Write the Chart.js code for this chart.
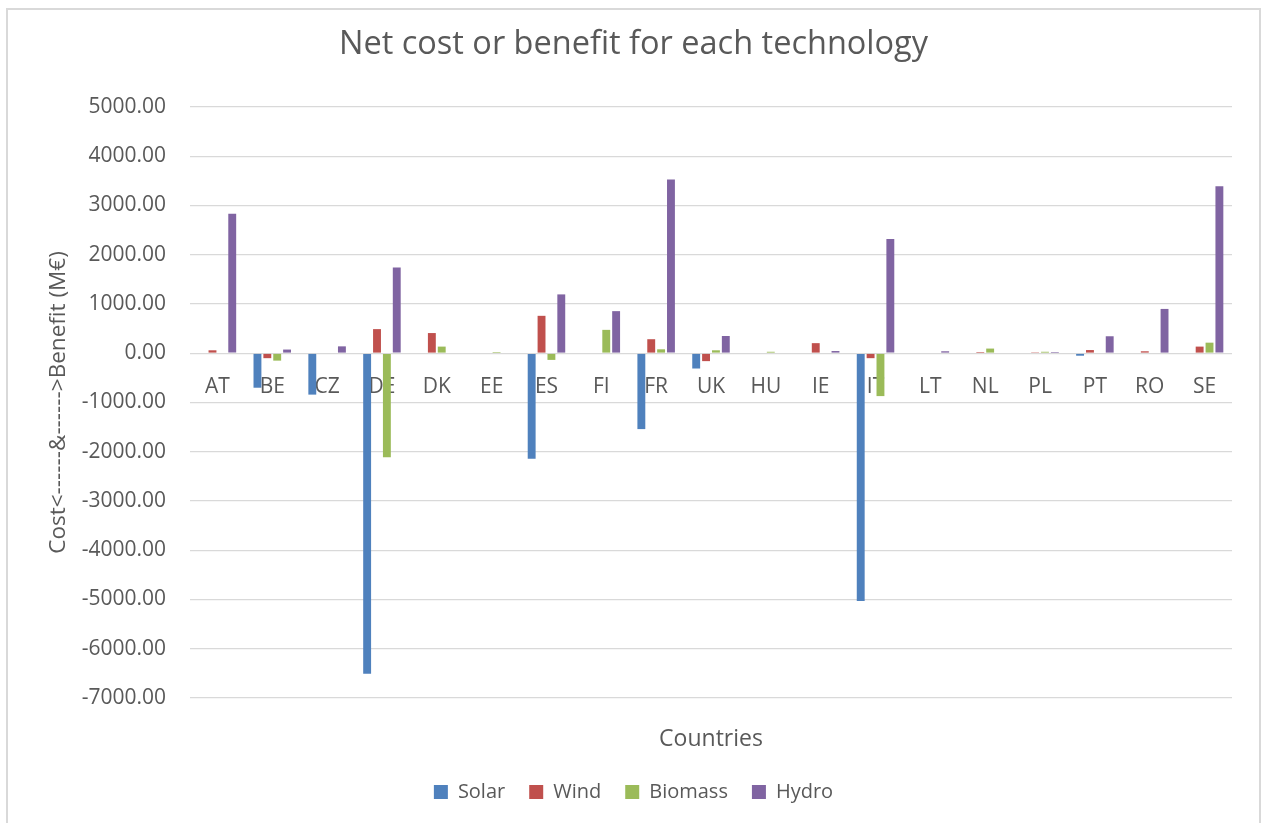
<!DOCTYPE html>
<html>
<head>
<meta charset="utf-8">
<title>Net cost or benefit for each technology</title>
<script src="https://cdn.jsdelivr.net/npm/chart.js@4"></script>
<style>
    html, body {
        margin: 0;
        background: #ffffff;
        overflow: hidden;
    }
    #frame {
        position: absolute;
        left: 6px;
        top: 8px;
        width: 1251px;
        height: 820px;
        border: 2px solid #d9d9d9;
        background: #ffffff;
    }
</style>
</head>
<body>
<div id="frame">
    <canvas id="techChart" width="1251" height="820"></canvas>
</div>
<script>
const countries = ["AT", "BE", "CZ", "DE", "DK", "EE", "ES", "FI", "FR", "UK", "HU", "IE", "IT", "LT", "NL", "PL", "PT", "RO", "SE"];
const solar = [0, -700, -840, -6510, 0, 0, -2140, 0, -1540, -310, 0, 0, -5030, 0, 0, 0, -50, 0, 0];
const wind = [60, -100, 0, 490, 410, 0, 760, 0, 285, -160, 0, 205, -100, 0, 25, 20, 65, 40, 135];
const biomass = [0, -150, 0, -2110, 135, 25, -135, 475, 80, 60, 30, 0, -870, 0, 95, 30, 0, 0, 215];
const hydro = [2830, 75, 140, 1740, 0, 0, 1195, 855, 3530, 350, 0, 45, 2320, 40, 0, 25, 345, 900, 3390];

const yRange = {min: -7000, max: 5000, step: 1000};

const textColor = "#595959";
const gridColor = "#d9d9d9";
const fontFamily = "'Open Sans', 'Liberation Sans', sans-serif";

function series(label, values, color) {
    return {
        label: label,
        data: values,
        backgroundColor: color,
        borderWidth: 0,
        barPercentage: 0.8,
        categoryPercentage: 0.72
    };
}

function font(size) {
    return {family: fontFamily, size: size};
}

const chart = new Chart(document.getElementById("techChart").getContext("2d"), {
    type: "bar",
    data: {
        labels: countries,
        datasets: [
            series("Solar", solar, "#4f81bd"),
            series("Wind", wind, "#c0504d"),
            series("Biomass", biomass, "#9bbb59"),
            series("Hydro", hydro, "#8064a2")
        ]
    },
    options: {
        responsive: false,
        animation: false,
        layout: {padding: {top: 0, right: 0, bottom: 18, left: 0}},
        plugins: {
            title: {
                display: true,
                text: "Net cost or benefit for each technology",
                color: textColor,
                font: Object.assign(font(32.5), {weight: "normal"}),
                padding: {top: 15, bottom: 43}
            },
            legend: {
                position: "bottom",
                labels: {
                    color: textColor,
                    font: font(20),
                    boxWidth: 14,
                    boxHeight: 14,
                    padding: 24
                }
            },
            tooltip: {enabled: false}
        },
        scales: {
            x: {
                position: "bottom",
                grid: {display: false, drawTicks: false},
                border: {display: false},
                ticks: {display: false},
                title: {
                    display: true,
                    text: "Countries",
                    color: textColor,
                    font: font(23),
                    padding: {top: 0, bottom: 5}
                },
                afterFit: (scale) => {
                    scale.height = 60;
                }
            },
            // country names sit on the zero line rather than the bottom edge
            xZero: {
                type: "category",
                position: {y: 0},
                offset: true,
                grid: {display: false, drawTicks: false},
                border: {display: false},
                ticks: {
                    color: textColor,
                    font: font(21),
                    padding: 21,
                    maxRotation: 0,
                    autoSkip: false
                }
            },
            y: {
                min: yRange.min,
                max: yRange.max,
                grid: {color: gridColor, lineWidth: 1.3, drawTicks: false},
                border: {display: false},
                ticks: {
                    stepSize: yRange.step,
                    color: textColor,
                    font: font(21),
                    padding: 24,
                    callback: (value) => Number(value).toFixed(2)
                },
                title: {
                    display: true,
                    text: "Cost<------&------>Benefit (M€)",
                    color: textColor,
                    font: font(22.5),
                    padding: {top: 37, bottom: 0}
                },
                afterFit: (scale) => {
                    scale.width = 182;
                }
            },
            // empty strip on the right so the title and legend stay centred on the canvas
            yPad: {
                position: "right",
                grid: {display: false, drawTicks: false},
                border: {display: false},
                ticks: {display: false},
                afterFit: (scale) => {
                    scale.width = 27;
                }
            }
        }
    }
});
</script>
</body>
</html>
